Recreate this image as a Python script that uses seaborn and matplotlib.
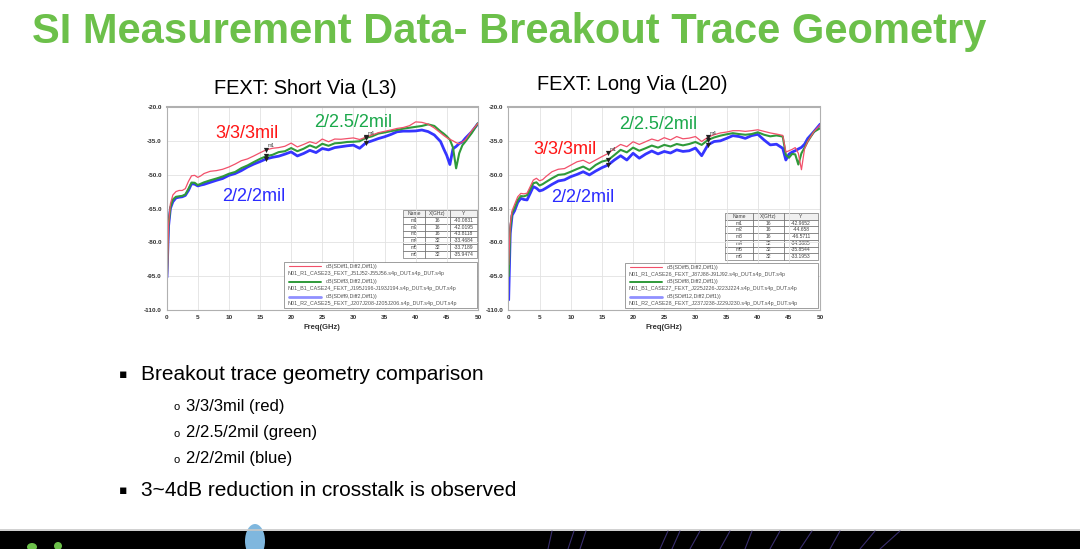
import matplotlib
matplotlib.use("Agg")
import matplotlib.pyplot as plt
import seaborn as sns
from matplotlib.patches import Rectangle, Ellipse
from matplotlib.lines import Line2D

# frequency grid (GHz) shared by all traces
FREQ = [0.05, 0.3, 0.6, 1, 1.5, 2, 2.5, 3, 3.5, 4, 4.5, 5, 5.5, 6,
        7, 8, 9, 10, 11, 12, 13, 14, 15, 16, 17, 18, 19, 20, 21, 22, 23, 24,
        25, 26, 27, 28, 29, 30, 31, 32, 33, 34, 35, 36, 37, 38, 39, 40, 41,
        42, 43, 44, 44.5, 45, 45.5, 46, 46.5, 47, 47.5, 48, 49, 50]

# FEXT short via (L3)
short_red = [-104, -72, -63, -59, -57.5, -57, -57, -56.2, -53, -50.5, -50.3, -51.2, -50.5, -49.5,
             -48.5, -48.2, -47.6, -46.6, -45.3, -43.8, -43.0, -41.7, -40.3, -39.0, -38.3, -38.0,
             -37.4, -36.0, -37.7, -36.6, -35.4, -36.2, -34.2, -35.4, -34.2, -34.3, -34.0, -33.7,
             -34.4, -33.4, -32.4, -31.4, -30.8, -30.2, -29.5, -29.1, -28.3, -26.6, -26.8, -27.6,
             -29.3, -31.5, -32.6, -33.6, -34.3, -35.0, -35.8, -36.3, -35.5, -34.5, -30.5, -27.3]
short_green = [-95, -72, -64.5, -61, -59.8, -59.6, -59.4, -58.8, -56.3, -53.5, -53.6, -54.6, -54.0, -53.4,
               -52.5, -51.7, -50.8, -49.6, -48.8, -47.1, -45.9, -44.4, -43.0, -41.8, -41.2, -40.0,
               -39.6, -38.2, -39.6, -38.5, -37.0, -38.1, -36.3, -37.2, -36.1, -35.9, -35.5, -35.4,
               -35.2, -33.7, -33.0, -31.8, -31.3, -30.7, -30.2, -29.6, -29.2, -28.8, -28.4, -27.7,
               -28.4, -30.8, -31.8, -33.0, -34.5, -38.0, -47.2, -40.5, -37.0, -35.3, -31.6, -27.2]
short_blue = [-95.5, -73, -65, -62, -60.3, -60, -59.8, -59.2, -57, -54, -54.2, -55, -54.6, -54.3,
              -53.4, -52.5, -51.7, -50.3, -49.5, -48.2, -46.6, -45.3, -44.2, -43.0, -42.3, -41.8,
              -40.9, -39.9, -41.7, -40.6, -39.2, -40.2, -38.4, -39.0, -38.0, -37.6, -37.2, -36.9,
              -38.3, -35.9, -35.0, -34.0, -33.2, -32.2, -31.0, -30.7, -30.7, -30.6, -30.2, -30.9,
              -32.4, -35.3, -38.5, -41.5, -45.5, -38.5, -37.5, -36.2, -35.5, -33.8, -31.0, -27.4]

# FEXT long via (L20)
long_red = [-90, -72, -66, -63.2, -59.8, -58.3, -58.5, -58.2, -55.3, -52.4, -51.6, -52.7, -52.2, -50.9,
            -48.7, -47.6, -47.3, -45.8, -44.3, -43.6, -45.0, -43.5, -42.0, -40.6, -38.4, -36.6,
            -37.6, -35.4, -36.6, -35.4, -34.2, -35.0, -33.6, -34.6, -33.1, -34.1, -33.8, -33.1,
            -35.3, -33.4, -32.3, -31.5, -31.1, -30.5, -30.5, -30.8, -30.5, -30.1, -30.8, -31.5,
            -32.0, -32.6, -40.0, -39.4, -38.8, -38.0, -40.5, -47.8, -38.5, -35.3, -30.9, -27.9]
long_green = [-95, -74, -67, -64.8, -61.2, -59.5, -59.6, -59.1, -56.6, -53.8, -53.4, -54.8, -54.2, -53.3,
              -51.6, -50.1, -49.8, -48.7, -47.5, -46.4, -47.9, -45.7, -44.2, -43.5, -41.3, -39.0,
              -40.1, -38.0, -39.4, -38.3, -37.1, -38.0, -36.8, -37.5, -36.4, -37.0, -36.4, -35.5,
              -36.8, -34.6, -33.5, -32.7, -32.1, -31.6, -32.0, -32.3, -32.0, -31.2, -32.3, -33.0,
              -32.6, -33.1, -41.2, -42.5, -40.8, -41.0, -45.5, -40.5, -38.0, -35.3, -31.0, -29.4]
long_blue = [-105.5, -76, -68, -66, -62.3, -60.5, -61, -61.2, -58.3, -55.3, -56.0, -57.2, -56.8, -56.0,
             -54.3, -52.8, -52.3, -50.9, -49.9, -48.7, -50.1, -48.4, -46.9, -45.7, -43.5, -41.6,
             -43.5, -40.5, -42.7, -40.9, -39.5, -40.8, -39.7, -40.4, -39.0, -39.7, -39.4, -38.2,
             -41.6, -36.8, -35.3, -35.0, -33.9, -32.7, -33.1, -33.9, -32.7, -32.1, -34.6, -36.8,
             -36.5, -38.3, -43.5, -40.9, -40.0, -39.4, -38.6, -37.9, -36.5, -34.0, -30.9, -27.6]

YTICKS = [-20, -35, -50, -65, -80, -95, -110]
XTICKS = [0, 5, 10, 15, 20, 25, 30, 35, 40, 45, 50]
MARKER_F = [16, 32]

short_table = [["m1", "16", "-40.0831"], ["m2", "16", "-42.0195"], ["m3", "16", "-43.8118"],
               ["m4", "32", "-33.4684"], ["m5", "32", "-33.7189"], ["m6", "32", "-35.9474"]]
long_table = [["m1", "16", "-42.9652"], ["m2", "16", "-44.658"], ["m3", "16", "-46.5711"],
              ["m4", "32", "-34.3885"], ["m5", "32", "-35.8544"], ["m6", "32", "-33.1953"]]

short_legend = [("dB(SDiff1,Diff2,Diff1))", "N01_R1_CASE23_FEXT_J51J52-J55J56.s4p_DUT.s4p_DUT.s4p"),
                ("dB(SDiff3,Diff2,Diff1))", "N01_B1_CASE24_FEXT_J195J196-J193J194.s4p_DUT.s4p_DUT.s4p"),
                ("dB(SDiff9,Diff2,Diff1))", "N01_R2_CASE25_FEXT_J207J208-J205J206.s4p_DUT.s4p_DUT.s4p")]
long_legend = [("dB(SDiff5,Diff2,Diff1))", "N01_R1_CASE26_FEXT_J87J88-J91J92.s4p_DUT.s4p_DUT.s4p"),
               ("dB(SDiff8,Diff2,Diff1))", "N01_B1_CASE27_FEXT_J225J226-J223J224.s4p_DUT.s4p_DUT.s4p"),
               ("dB(SDiff12,Diff2,Diff1))", "N01_R2_CASE28_FEXT_J237J238-J229J230.s4p_DUT.s4p_DUT.s4p")]

LINE_RED, LINE_GREEN, LINE_BLUE = "#f2506a", "#2f9a3a", "#3535ff"
TXT_RED, TXT_GREEN, TXT_BLUE = "#ff1414", "#1aa84a", "#2b2bff"

sns.set_theme(style="white")
plt.rcParams["font.family"] = ["Liberation Sans", "DejaVu Sans"]

fig = plt.figure(figsize=(10.8, 5.49), dpi=100)
fig.patch.set_facecolor("white")


def panel(rect, red, green, blue, table, legend, labels):
    ax = fig.add_axes(rect)
    sns.lineplot(x=FREQ, y=blue, ax=ax, color=LINE_BLUE, linewidth=2.0, estimator=None, sort=False)
    sns.lineplot(x=FREQ, y=green, ax=ax, color=LINE_GREEN, linewidth=1.5, estimator=None, sort=False)
    sns.lineplot(x=FREQ, y=red, ax=ax, color=LINE_RED, linewidth=0.9, estimator=None, sort=False)

    # markers m1..m6
    k = 1
    for f in MARKER_F:
        i = FREQ.index(f)
        for s in (red, green, blue):
            ax.scatter([f], [s[i]], marker="v", s=14, color="#222222", zorder=5, linewidths=0)
            k += 1
        ax.text(f + 0.3, max(red[i], green[i]) + 1.2, "m%d" % (k - 3), fontsize=3.5, color="#333333")

    ax.set_xlim(0, 50)
    ax.set_ylim(-110, -20)
    ax.set_xticks(XTICKS)
    ax.set_yticks(YTICKS)
    ax.set_yticklabels(["%.1f" % v for v in YTICKS])
    ax.tick_params(axis="both", labelsize=4.6, colors="#333333", length=2, width=0.5, pad=1.5)
    for lab in ax.get_xticklabels() + ax.get_yticklabels():
        lab.set_fontweight("bold")
    ax.grid(True, color="#e2e2e2", linewidth=0.6)
    for side, sp in ax.spines.items():
        sp.set_color("#b0b0b0")
        sp.set_linewidth(0.8)
    ax.spines["top"].set_linewidth(1.5)
    ax.set_xlabel("Freq(GHz)", fontsize=5.5, fontweight="bold", color="#333333", labelpad=3)
    ax.set_ylabel("")

    # marker table
    tx0, ty0, tx1, ty1 = table[1]
    tb = ax.table(cellText=table[0], colLabels=["Name", "X(GHz)", "Y"],
                  bbox=[tx0, ty0, tx1 - tx0, ty1 - ty0], cellLoc="center",
                  colWidths=[0.3, 0.33, 0.37])
    tb.auto_set_font_size(False)
    for (r, c), cell in tb.get_celld().items():
        cell.set_linewidth(0.4)
        cell.set_edgecolor("#555555")
        cell.get_text().set_fontsize(3.6)
        cell.get_text().set_color("#444444")
        if r == 0:
            cell.set_facecolor("#f0f0f0")

    # legend box
    lx0, ly0, lx1, ly1 = legend[1]
    ax.add_patch(Rectangle((lx0, ly0), lx1 - lx0, ly1 - ly0, transform=ax.transAxes,
                           facecolor="white", edgecolor="#777777", linewidth=0.5, zorder=6))
    step = (ly1 - ly0) / 3
    for j, ((l1, l2), c, w) in enumerate(zip(legend[0], [LINE_RED, LINE_GREEN, "#9090ff"], [0.8, 1.4, 2.0])):
        yt = ly1 - step * j - step * 0.28
        ax.add_line(Line2D([lx0 + 0.015, lx0 + 0.12], [yt, yt], transform=ax.transAxes,
                           color=c, linewidth=w, zorder=7))
        ax.text(lx0 + 0.135, yt, l1, transform=ax.transAxes, fontsize=3.9, color="#555555",
                va="center", zorder=7)
        ax.text(lx0 + 0.012, yt - step * 0.47, l2, transform=ax.transAxes, fontsize=3.9,
                color="#555555", va="center", zorder=7)

    # trace labels
    for (txt, col, x, y) in labels:
        ax.text(x, y, txt, color=col, fontsize=13, ha="center", va="center",
                transform=ax.transAxes, zorder=8)
    return ax


ax1 = panel([0.1543, 0.4353, 0.2882, 0.3698], short_red, short_green, short_blue,
            (short_table, (0.759, 0.256, 0.997, 0.493)),
            (short_legend, (0.377, 0.012, 0.997, 0.236)),
            [("3/3/3mil", TXT_RED, 0.258, 0.87), ("2/2.5/2mil", TXT_GREEN, 0.60, 0.925),
             ("2/2/2mil", TXT_BLUE, 0.28, 0.56)])
ax2 = panel([0.4707, 0.4353, 0.2887, 0.3698], long_red, long_green, long_blue,
            (long_table, (0.695, 0.246, 0.994, 0.478)),
            (long_legend, (0.374, 0.012, 0.994, 0.232)),
            [("3/3/3mil", TXT_RED, 0.18, 0.79), ("2/2.5/2mil", TXT_GREEN, 0.48, 0.915),
             ("2/2/2mil", TXT_BLUE, 0.24, 0.555)])

# slide texts
fig.text(32 / 1080, 1 - 32 / 549, "SI Measurement Data- Breakout Trace Geometry", fontsize=30,
         fontweight="bold", color="#6cc04a", va="center", ha="left")
fig.text(305 / 1080, 1 - 88 / 549, "FEXT: Short Via (L3)", fontsize=14.4, color="black",
         ha="center", va="center")
fig.text(632 / 1080, 1 - 85 / 549, "FEXT: Long Via (L20)", fontsize=14.4, color="black",
         ha="center", va="center")

bullets = [(119, 141, 374, "Breakout trace geometry comparison", 15, "\u25aa"),
           (173, 186, 406, "3/3/3mil (red)", 12, "o"),
           (173, 186, 433, "2/2.5/2mil (green)", 12, "o"),
           (173, 186, 459, "2/2/2mil (blue)", 12, "o"),
           (119, 141, 490, "3~4dB reduction in crosstalk is observed", 15, "\u25aa")]
for bx, tx, y, txt, fs, sym in bullets:
    if sym == "o":
        fig.text(bx / 1080, 1 - (y + 1) / 549, sym, fontsize=8, color="black", va="center", ha="left")
    else:
        fig.text(bx / 1080, 1 - y / 549, sym, fontsize=9, color="black", va="center", ha="left",
                 family=["DejaVu Sans"])
    fig.text(tx / 1080, 1 - y / 549, txt, fontsize=fs, color="black", va="center", ha="left")

# footer band
fig.patches.append(Rectangle((0, 0), 1, 18 / 549, transform=fig.transFigure,
                             facecolor="black", edgecolor="none"))
fig.lines.append(Line2D([0, 1], [19 / 549, 19 / 549], transform=fig.transFigure,
                        color="#c8c8c8", linewidth=1.2))
fig.patches.append(Ellipse((255 / 1080, 8 / 549), 20 / 1080, 34 / 549, transform=fig.transFigure,
                           facecolor="#7fb7de", edgecolor="none"))
fig.patches.append(Ellipse((32 / 1080, 2 / 549), 10 / 1080, 8 / 549, transform=fig.transFigure,
                           facecolor="#6cc04a", edgecolor="none"))
fig.patches.append(Ellipse((58 / 1080, 3 / 549), 8 / 1080, 8 / 549, transform=fig.transFigure,
                           facecolor="#6cc04a", edgecolor="none"))
for xs in [(548, 552), (568, 574), (580, 586), (660, 668), (672, 680), (690, 700), (720, 730),
           (745, 752), (770, 780), (800, 812), (830, 840), (860, 875), (880, 900)]:
    fig.lines.append(Line2D([xs[0] / 1080, xs[1] / 1080], [0, 18 / 549], transform=fig.transFigure,
                            color="#3a2f6e", linewidth=0.8))

fig.savefig("out.png", dpi=100)
